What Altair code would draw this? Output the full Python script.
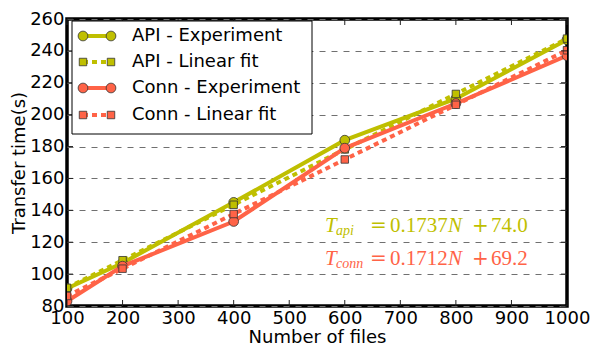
import altair as alt
import pandas as pd

# ---- data ----
N = [100, 200, 400, 600, 800, 1000]
api_exp = [91, 107, 145, 184, 210, 247]
api_fit = [91.4, 108.7, 143.5, 178.2, 213.0, 247.7]
conn_exp = [83, 105, 133, 179, 207, 237]
conn_fit = [86.3, 103.4, 137.7, 171.9, 206.2, 240.4]

x_ticks = [100, 200, 300, 400, 500, 600, 700, 800, 900, 1000]
y_ticks = [80, 100, 120, 140, 160, 180, 200, 220, 240, 260]

legend_labels = ["API - Experiment", "API - Linear fit", "Conn - Experiment", "Conn - Linear fit"]

API_C = "#bfbf00"
CONN_C = "#ff6347"
EDGE = "#333333"
FONT = "DejaVu Sans"
SERIF = "Liberation Serif"
SERIF2 = "DejaVu Serif"

W, H = 500, 287

xscale = alt.Scale(domain=[100, 1000], nice=False, zero=False)
yscale = alt.Scale(domain=[80, 260], nice=False, zero=False)
xaxis = alt.Axis(values=x_ticks, title="Number of files", grid=False, ticks=False,
                 domain=False, labelFont=FONT, labelFontSize=18, titleFont=FONT,
                 titleFontSize=18, titleFontWeight="normal", labelPadding=3,
                 titlePadding=1, labelColor="black", titleColor="black", format="d",
                 labelOverlap=False, labelFlush=False)
yaxis = alt.Axis(values=y_ticks, title="Transfer time(s)", grid=True, gridDash=[6, 6],
                 gridColor="#707070", gridWidth=1, ticks=False, domain=False,
                 labelFont=FONT, labelFontSize=18, titleFont=FONT, titleFontSize=18,
                 titleFontWeight="normal", labelPadding=3, titlePadding=1,
                 labelColor="black", titleColor="black", format="d",
                 labelOverlap=False, labelFlush=False)

X = alt.X("N:Q", scale=xscale, axis=xaxis)
Y = alt.Y("v:Q", scale=yscale, axis=yaxis)

layers = []

def series(vals, color, dashed, shape, size):
    df = pd.DataFrame({"N": N, "v": vals})
    base = alt.Chart(df)
    lk = dict(color=color, strokeWidth=4, clip=True)
    if dashed:
        lk["strokeDash"] = [5, 4]
    line = base.mark_line(**lk).encode(x=X, y=Y)
    pts = base.mark_point(shape=shape, size=size, filled=True, fill=color, stroke=EDGE,
                          strokeWidth=0.8, opacity=1, clip=True).encode(x=X, y=Y)
    return [line, pts]

layers += series(api_exp, API_C, False, "circle", 95)
layers += series(api_fit, API_C, True, "square", 56)
layers += series(conn_exp, CONN_C, False, "circle", 95)
layers += series(conn_fit, CONN_C, True, "square", 56)

# inward ticks
xt = pd.DataFrame({"N": x_ticks})
yt = pd.DataFrame({"v": y_ticks})
tick_style = dict(color="#222222", strokeWidth=1)
layers.append(alt.Chart(xt).mark_rule(**tick_style).encode(x=X, y=alt.value(0), y2=alt.value(6)))
layers.append(alt.Chart(xt).mark_rule(**tick_style).encode(x=X, y=alt.value(H), y2=alt.value(H - 6)))
layers.append(alt.Chart(yt).mark_rule(**tick_style).encode(y=Y, x=alt.value(0), x2=alt.value(6)))
layers.append(alt.Chart(yt).mark_rule(**tick_style).encode(y=Y, x=alt.value(W), x2=alt.value(W - 6)))

# legend (manual, matplotlib style)
one = pd.DataFrame({"k": [0]})
layers.append(alt.Chart(one).mark_rect(fill="white", stroke="black", strokeWidth=1).encode(
    x=alt.value(5), x2=alt.value(245), y=alt.value(2), y2=alt.value(115)))
rows_y = [17, 43, 69, 96]
leg_colors = [API_C, API_C, CONN_C, CONN_C]
leg_dash = [False, True, False, True]
leg_shape = ["circle", "square", "circle", "square"]
leg_size = [95, 56, 95, 56]
for lab, yy, c, d, s, sz in zip(legend_labels, rows_y, leg_colors, leg_dash, leg_shape, leg_size):
    rk = dict(color=c, strokeWidth=4)
    if d:
        rk["strokeDash"] = [5, 4]
    layers.append(alt.Chart(one).mark_rule(**rk).encode(
        x=alt.value(16), x2=alt.value(44), y=alt.value(yy)))
    for xx in (16, 44):
        layers.append(alt.Chart(one).mark_point(shape=s, size=sz, filled=True, fill=c,
                                                stroke=EDGE, strokeWidth=0.8, opacity=1).encode(
            x=alt.value(xx), y=alt.value(yy)))
    layers.append(alt.Chart(one).mark_text(text=lab, font=FONT, fontSize=18, align="left",
                                           baseline="middle", color="black").encode(
        x=alt.value(65), y=alt.value(yy)))

# equations
eq_rows = [
    ("api", "0.1737", "74.0", API_C, 212.5),
    ("conn", "0.1712", "69.2", CONN_C, 246),
]
for sub, slope, icpt, c, by in eq_rows:
    pieces = [
        ("T", 258, by, 21, "italic", SERIF),
        (sub, 269, by + 3, 14, "italic", SERIF),
        ("=", 303, by, 20, "normal", SERIF2),
        (slope, 323, by, 21, "normal", SERIF),
        ("N", 381, by, 21, "italic", SERIF),
        ("+", 405, by, 20, "normal", SERIF2),
        (icpt, 424, by, 21, "normal", SERIF),
    ]
    for txt, px, py, fs, st, fnt in pieces:
        layers.append(alt.Chart(one).mark_text(text=txt, font=fnt, fontSize=fs, fontStyle=st,
                                               align="left", baseline="alphabetic", color=c).encode(
            x=alt.value(px), y=alt.value(py)))

chart = alt.layer(*layers).properties(
    width=W, height=H,
    autosize=alt.AutoSizeParams(type="none"),
    padding={"left": 59, "top": 11, "right": 23, "bottom": 40},
).configure_view(stroke="black", strokeWidth=3.5)

chart.save("out.html", embed_options={"renderer": "svg", "actions": False})
